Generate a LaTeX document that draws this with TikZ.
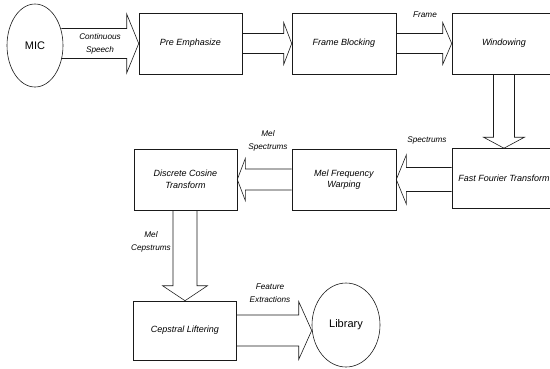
\documentclass[tikz,border=0pt]{standalone}
\usepackage{fontspec}
\setmainfont{Liberation Sans}
\usepackage{tikz}
\usetikzlibrary{calc,shapes.geometric}
\definecolor{Ink}{HTML}{1A1A1A}
% block arrow, horizontal: tail, tip, shaft half width, head half width, head length (signed)
\newcommand{\harrow}[5]{\draw[blk] let \p1=#1, \p2=#2 in
  (\x1,{\y2+#3}) -- ({\x2-(#5)},{\y2+#3}) -- ({\x2-(#5)},{\y2+#4}) -- (\x2,\y2)
  -- ({\x2-(#5)},{\y2-#4}) -- ({\x2-(#5)},{\y2-#3}) -- (\x1,{\y2-#3});}
% block arrow, downwards
\newcommand{\varrow}[5]{\draw[blk] let \p1=#1, \p2=#2 in
  ({\x2+#3},\y1) -- ({\x2+#3},{\y2+#5}) -- ({\x2+#4},{\y2+#5}) -- (\x2,\y2)
  -- ({\x2-#4},{\y2+#5}) -- ({\x2-#3},{\y2+#5}) -- ({\x2-#3},\y1);}
\begin{document}
\begin{tikzpicture}[
  x=1pt,y=-1pt,
  stage/.style={draw=Ink,line width=.6pt,minimum width=103pt,minimum height=61pt,inner sep=1pt,align=center,font=\itshape\fontsize{9}{11.5}\selectfont},
  endpoint/.style={draw=Ink,line width=.6pt,ellipse,inner sep=0pt,font=\fontsize{11}{13}\selectfont},
  blk/.style={draw=Ink,line width=.6pt,line join=miter},
  tag/.style={align=center,inner sep=1pt,font=\itshape\fontsize{8.2}{12.5}\selectfont}
]
\clip (0,0) rectangle (550,368);
\node[endpoint,minimum width=56pt,minimum height=83pt] (mic) at (35,45.5) {MIC};
\node[stage] (pre) at (190.5,43.5) {Pre Emphasize};
\node[stage,minimum width=104pt] (block) at (344,43.5) {Frame Blocking};
\node[stage,minimum width=104pt] (window) at (504,43.5) {Windowing};
\node[stage,minimum width=104pt,minimum height=60pt] (fft) at (504,178.5) {Fast Fourier Transform};
\node[stage,minimum width=104pt] (warp) at (344,179.5) {Mel Frequency\\Warping};
\node[stage] (dct) at (185.5,179.5) {Discrete Cosine\\Transform};
\node[stage,minimum height=59pt] (lifter) at (185,330.5) {Cepstral Liftering};
\node[endpoint,minimum width=68pt,minimum height=84pt] (lib) at (346,325) {Library};

\harrow{($(mic.east)+(-2,0)$)}{(pre.west)}{15pt}{29.5pt}{12pt}
\harrow{(pre.east)}{(block.west)}{10pt}{21pt}{8pt}
\harrow{(block.east)}{(window.west)}{10pt}{21pt}{9pt}
\varrow{(window.south)}{(fft.north)}{10.5pt}{20.5pt}{11pt}
\harrow{(fft.west)}{(warp.east)}{12pt}{24.5pt}{-10pt}
\harrow{(warp.west)}{(dct.east)}{10.5pt}{21pt}{-8pt}
\varrow{(dct.south)}{(lifter.north)}{12pt}{22.5pt}{15pt}
\harrow{(lifter.east)}{(lib.west |- lifter.east)}{15.5pt}{29pt}{13pt}

\node[tag] (speech) at (100,44) {Continuous\\Speech};
\node[tag] (frame) at (425,15) {Frame};
\node[tag] (spec) at (427,140) {Spectrums};
\node[tag] (melspec) at (268,141) {Mel\\Spectrums};
\node[tag] (melcep) at (151,242) {Mel\\Cepstrums};
\node[tag] (feat) at (270,293) {Feature\\Extractions};
\end{tikzpicture}
\end{document}
